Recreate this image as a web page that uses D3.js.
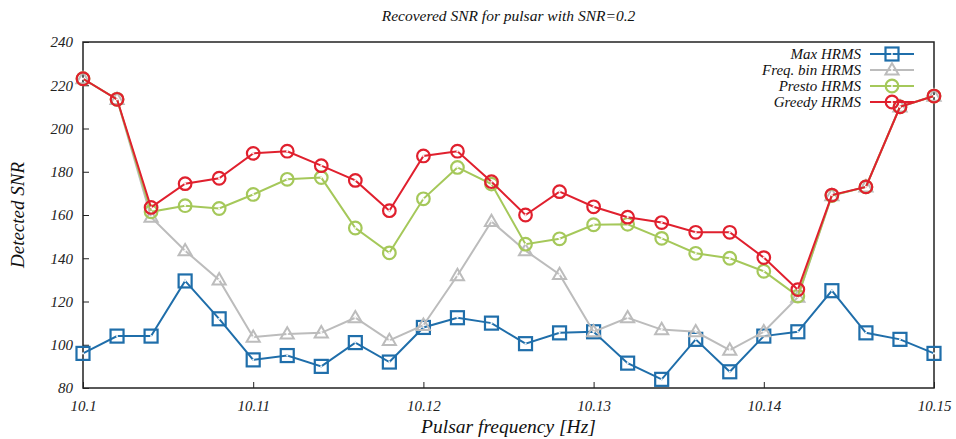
<!DOCTYPE html>
<html>
<head>
<meta charset="utf-8">
<script src="https://cdn.jsdelivr.net/npm/d3@7"></script>
<style>
  body { margin: 0; background: #fff; }
  svg text { font-family: "Times New Roman", Times, "Liberation Serif", Tinos, "DejaVu Serif", serif; font-style: italic; }
</style>
</head>
<body>
<div id="chart"></div>
<script>
// Data
const freqs = d3.range(26).map(i => +(10.1 + i * 0.002).toFixed(3));
const maxHrms = [96, 104, 104, 129.5, 112, 93, 95, 90, 101, 92, 108, 112.5, 110, 100.5, 105.5, 106, 91.5, 84, 102.5, 87.5, 104, 106, 125, 105.5, 102.5, 96];
const freqBin = [223, 213.5, 159, 143.5, 130, 103.5, 105, 105.5, 112.5, 102, 109, 132, 157, 143.5, 132.5, 106, 112.5, 107, 106, 97.5, 106, 122, 169, 173, 210, 215];
const presto = [223, 213.5, 161.5, 164.3, 163, 169.5, 176.5, 177.3, 154, 142.5, 167.5, 182, 174.3, 146.5, 149, 155.5, 155.7, 149.2, 142.3, 140, 134, 122.5, 169, 173, 210, 215];
const greedy = [223, 213.5, 163.5, 174.5, 177, 188.5, 189.5, 182.8, 176, 162, 187.3, 189.5, 175.4, 160, 170.8, 163.8, 159, 156.5, 152, 152, 140.3, 125.5, 169.2, 173, 210, 215];
const xTicks = [10.1, 10.11, 10.12, 10.13, 10.14, 10.15];
const yTicks = [80, 100, 120, 140, 160, 180, 200, 220, 240];

const series = [
  { name: 'Max HRMS', values: maxHrms, color: '#1f6eaa', marker: 'square' },
  { name: 'Freq. bin HRMS', values: freqBin, color: '#bcbcbc', marker: 'triangle' },
  { name: 'Presto HRMS', values: presto, color: '#a5c85a', marker: 'circle' },
  { name: 'Greedy HRMS', values: greedy, color: '#e0202e', marker: 'circle' }
];

const serif = '"Times New Roman", Times, "Liberation Serif", Tinos, "DejaVu Serif", serif';
const width = 956, height = 439;
const margin = { top: 42, right: 22, bottom: 51, left: 83 };
const w = width - margin.left - margin.right;
const h = height - margin.top - margin.bottom;

const svg = d3.select('#chart').append('svg')
  .attr('width', width)
  .attr('height', height)
  .attr('font-family', serif);

const g = svg.append('g')
  .attr('transform', `translate(${margin.left},${margin.top})`);

const x = d3.scaleLinear().domain([10.1, 10.15]).range([0, w]);
const y = d3.scaleLinear().domain([80, 240]).range([h, 0]);

// Axes with inward ticks
const xAxis = g.append('g')
  .attr('transform', `translate(0,${h})`)
  .call(d3.axisBottom(x).tickValues(xTicks).tickSize(-6).tickPadding(12).tickFormat(d => d3.format('')(d)));
const yAxis = g.append('g')
  .call(d3.axisLeft(y).tickValues(yTicks).tickSize(-6).tickPadding(10));

[xAxis, yAxis].forEach(a => {
  a.attr('font-family', serif);
  a.select('.domain').remove();
  a.selectAll('line').attr('stroke', '#222').attr('stroke-width', 1);
  a.selectAll('text').attr('font-size', 15).attr('fill', '#222');
});

// Frame
g.append('rect')
  .attr('width', w).attr('height', h)
  .attr('fill', 'none').attr('stroke', '#222').attr('stroke-width', 1.5);

const line = d3.line().x((d, i) => x(freqs[i])).y(d => y(d));

function drawMarker(sel, type, color) {
  if (type === 'square') {
    sel.append('rect').attr('x', -6.5).attr('y', -6.5).attr('width', 13).attr('height', 13)
      .attr('fill', 'none').attr('stroke', color).attr('stroke-width', 2.2);
  } else if (type === 'triangle') {
    sel.append('path').attr('d', d3.symbol(d3.symbolTriangle, 75)())
      .attr('transform', 'translate(0,0.8)')
      .attr('fill', 'none').attr('stroke', color).attr('stroke-width', 2);
  } else {
    sel.append('circle').attr('r', 6.3)
      .attr('fill', 'none').attr('stroke', color).attr('stroke-width', 2.2);
  }
  sel.append('circle').attr('r', 1.1).attr('fill', '#fff').attr('opacity', 0.9);
}

series.forEach(s => {
  const sg = g.append('g');
  sg.append('path')
    .datum(s.values)
    .attr('d', line)
    .attr('fill', 'none')
    .attr('stroke', s.color)
    .attr('stroke-width', 2);
  sg.selectAll('.pt')
    .data(s.values)
    .enter().append('g')
    .attr('class', 'pt')
    .attr('transform', (d, i) => `translate(${x(freqs[i])},${y(d)})`)
    .each(function () { drawMarker(d3.select(this), s.marker, s.color); });
});

// Legend
const legend = svg.append('g').attr('transform', 'translate(861,54)');
series.forEach((s, i) => {
  const row = legend.append('g').attr('transform', `translate(0,${i * 16})`);
  row.append('text').attr('x', 0).attr('y', 0).attr('dy', '0.35em')
    .attr('text-anchor', 'end').attr('font-size', 15).attr('fill', '#111').text(s.name);
  row.append('line').attr('x1', 9).attr('x2', 53).attr('y1', 0).attr('y2', 0)
    .attr('stroke', s.color).attr('stroke-width', 2);
  const m = row.append('g').attr('transform', 'translate(31,0)');
  drawMarker(m, s.marker, s.color);
});

// Title and axis labels
svg.append('text')
  .attr('x', margin.left + w / 2).attr('y', 21)
  .attr('text-anchor', 'middle').attr('font-size', 15.5).attr('fill', '#111')
  .text('Recovered SNR for pulsar with SNR=0.2');

svg.append('text')
  .attr('x', margin.left + w / 2).attr('y', 433)
  .attr('text-anchor', 'middle').attr('font-size', 19.5).attr('fill', '#111')
  .text('Pulsar frequency [Hz]');

svg.append('text')
  .attr('transform', `translate(24,${margin.top + h / 2}) rotate(-90)`)
  .attr('text-anchor', 'middle').attr('font-size', 19).attr('fill', '#111')
  .text('Detected SNR');
</script>
</body>
</html>
